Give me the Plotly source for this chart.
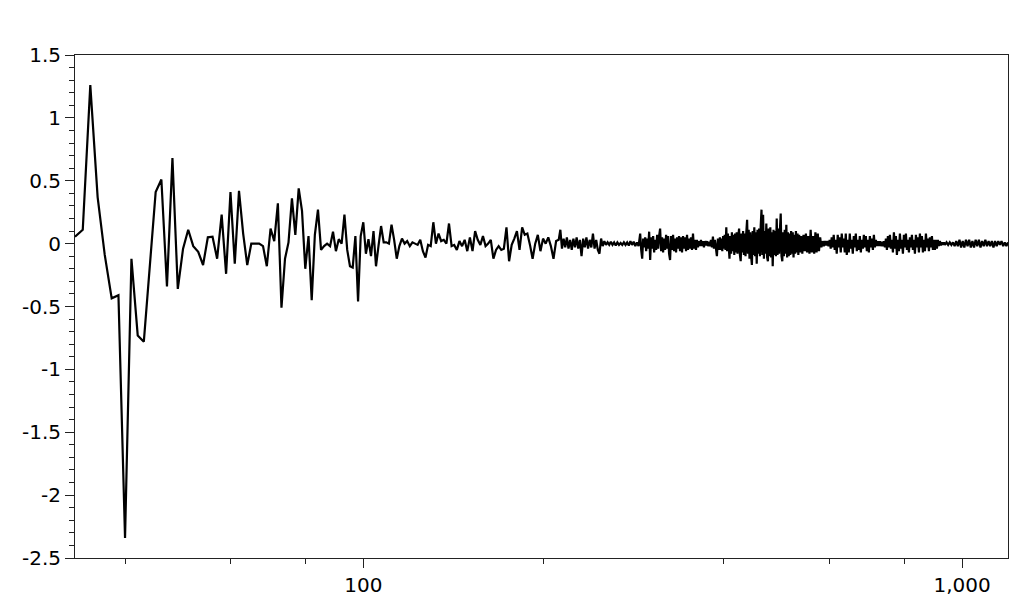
import numpy as np
import plotly.graph_objects as go

# Segment A: integer x from 33 to 105
x_a = list(range(33, 106))
y_a = [0.055, 0.11, 1.26, 0.37, -0.09, -0.435, -0.41, -2.34, -0.12, -0.73,
       -0.78, -0.18, 0.41, 0.51, -0.34, 0.68, -0.36, -0.04, 0.11, -0.02,
       -0.065, -0.17, 0.05, 0.055, -0.12, 0.23, -0.24, 0.41, -0.16, 0.42,
       0.08, -0.17, 0.0, 0.0, 0.0, -0.02, -0.18, 0.12, 0.02, 0.32,
       -0.51, -0.12, 0.01, 0.36, 0.07, 0.44, 0.26, -0.2, 0.06, -0.45,
       0.07, 0.27, -0.05, -0.02, 0.0, -0.02, 0.095, -0.06, 0.035, 0.0,
       0.23, -0.05, -0.18, -0.19, 0.06, -0.46, 0.06, 0.17, -0.08, 0.035,
       -0.1, 0.1, -0.18]

# Segments read along the denser part of the trace; each segment spans
# [start, end) in x and its values are read left to right.
seg_bounds = [106, 212, 290, 394, 536, 601, 729, 936, 1193]

y_b = [-0.02, 0.14, 0.01, 0.01, 0.0, 0.15, 0.03, -0.12, -0.02, 0.04,
       0.0, 0.02, -0.02, 0.01, 0.0, -0.01, 0.03, -0.06, -0.11, -0.01,
       -0.02, 0.17, 0.0, 0.08, 0.02, 0.03, 0.0, 0.16, -0.02, -0.01,
       -0.05, 0.02, -0.02, 0.03, -0.06, 0.05, -0.06, 0.1, 0.03, -0.01,
       0.06, -0.02, 0.0, 0.03, -0.12, -0.05, -0.02, -0.05, -0.04, 0.13,
       -0.14, -0.01, 0.04, 0.1, -0.05, 0.13, 0.07, 0.08, -0.01, -0.12,
       0.0, 0.07, -0.06, 0.04, 0.0, 0.05, -0.02, -0.12, 0.02]

y_c1 = [
    0.03, 0.11, -0.04, 0.04, -0.03, 0.05, -0.04, 0.03, -0.05, 0.04,
    -0.03, 0.05, -0.04, 0.03, -0.10, 0.04, -0.03, 0.05, -0.04, 0.03,
    -0.03, 0.08, -0.04, 0.03, -0.05, -0.08, 0.04, -0.02, 0.02, -0.01,
    0.01, -0.01, 0.015, -0.01, 0.01, -0.015, 0.01, -0.01, 0.005, -0.01,
    0.01, -0.01, 0.01, -0.015, 0.02, -0.01, 0.015, -0.02, 0.01, -0.02,
]

y_c2 = [
    0.08, -0.05, -0.12, 0.04, -0.03, 0.05, -0.06, 0.04, -0.04, 0.095,
    -0.13, 0.05, -0.04, 0.06, -0.07, 0.03, -0.05, 0.07, -0.04, 0.06,
    0.12, -0.06, 0.05, -0.07, 0.04, -0.05, 0.07, -0.04, 0.06, -0.08,
    -0.13, 0.06, -0.05, 0.07, -0.06, 0.04, -0.07, 0.05, -0.04, 0.06,
    -0.06, 0.05, -0.07, 0.06, -0.04, 0.05, -0.06, 0.07, -0.05, 0.04,
    -0.04, 0.05, -0.05, 0.08, -0.04, 0.03, -0.05, 0.03, -0.03, 0.02,
    -0.02, 0.03, -0.02, 0.02, -0.03, 0.02, -0.015, 0.02, -0.02, 0.015,
    -0.02, 0.03, -0.03, 0.055, -0.04, 0.03, -0.05, -0.10, 0.04, -0.05,
]

y_c3 = [
    0.05, -0.05, 0.04, -0.06, 0.06, -0.04, 0.07, -0.05, 0.13, -0.06,
    0.08, -0.07, -0.12, 0.06, -0.08, 0.09, -0.06, 0.07, -0.09, 0.08,
    -0.07, 0.09, -0.08, 0.06, 0.12, -0.09, -0.14, 0.08, -0.07, 0.10,
    -0.09, 0.08, -0.10, 0.09, 0.19, -0.08, 0.11, -0.12, 0.09, -0.10,
    -0.17, 0.10, -0.09, 0.13, -0.10, 0.09, -0.16, 0.11, -0.08, 0.12,
    -0.10, 0.14, 0.27, -0.09, 0.23, -0.12, 0.10, -0.08, 0.16, -0.11,
    -0.14, 0.12, -0.10, 0.13, -0.11, 0.09, -0.18, 0.11, -0.09, 0.10,
    -0.10, 0.20, -0.09, 0.12, -0.08, 0.11, 0.24, -0.10, -0.14, 0.09,
    -0.10, 0.11, -0.08, 0.15, -0.11, 0.09, -0.10, 0.08, -0.09, 0.10,
    -0.08, 0.09, -0.11, 0.07, -0.08, 0.10, -0.07, 0.08, -0.09, 0.07,
]

y_c4 = [
    -0.07, 0.06, -0.08, 0.07, -0.06, 0.08, -0.07, 0.06, -0.08, 0.11,
    -0.07, 0.06, -0.08, 0.09, -0.07, 0.08, -0.06, 0.05, -0.03, 0.02,
    -0.02, 0.02, -0.015, 0.02, -0.02,
]

y_c5 = [
    0.03, -0.04, 0.05, -0.03, 0.07, -0.05, 0.03, -0.08, 0.07, -0.03,
    0.05, -0.07, 0.08, -0.03, 0.04, -0.07, 0.08, -0.09, 0.03, -0.07,
    0.08, -0.04, 0.03, -0.08, 0.06, -0.03, 0.08, -0.06, 0.03, -0.05,
    0.06, -0.07, 0.03, -0.04, 0.07, -0.03, 0.06, -0.06, 0.03, -0.07,
    0.06, -0.03, 0.04, -0.05, 0.07, -0.03, 0.03, -0.02, 0.02, -0.02,
]

y_c6 = [
    0.02, -0.02, 0.015, -0.02, 0.02, -0.03, 0.04, -0.05, 0.06, -0.03,
    0.07, -0.04, 0.03, -0.07, 0.09, -0.04, 0.06, -0.09, 0.03, -0.06,
    0.08, -0.04, 0.03, -0.08, 0.07, -0.03, 0.08, -0.05, 0.03, -0.07,
    0.05, -0.03, 0.07, -0.05, 0.03, -0.08, 0.07, -0.03, 0.05, -0.07,
    0.08, -0.03, 0.06, -0.07, 0.03, -0.06, 0.08, -0.03, 0.04, -0.06,
    0.05, -0.03, 0.06, -0.05, 0.03, -0.05, 0.03, -0.04, 0.03, -0.02,
    0.02, -0.015, 0.01, -0.01, 0.01,
]

y_c7 = [
    -0.01, 0.01, -0.01, 0.01, -0.01, 0.01, -0.02, 0.02, -0.02, 0.03,
    -0.03, 0.02, -0.03, 0.03, -0.02, 0.03, -0.03, 0.02, -0.03, 0.03,
    -0.02, 0.03, -0.03, 0.02, -0.02, 0.03, -0.02, 0.02, -0.02, 0.02,
    -0.03, 0.02, -0.02, 0.02, -0.01, 0.02, -0.02, 0.01, -0.02, 0.01,
]

x_major = [100, 1000]
x_major_text = ["100", "1,000"]
x_minor = [40, 60, 80, 200, 400, 600, 800]
y_major = [-2.5, -2, -1.5, -1, -0.5, 0, 0.5, 1, 1.5]
y_major_text = ["-2.5", "-2", "-1.5", "-1", "-0.5", "0", "0.5", "1", "1.5"]
x_range = [33, 1193]
y_range = [-2.5, 1.5]

segments = [y_b, y_c1, y_c2, y_c3, y_c4, y_c5, y_c6, y_c7]
xs = [np.array(x_a, dtype=float)]
ys = [np.array(y_a)]
for i, seg in enumerate(segments):
    last = i == len(segments) - 1
    xs.append(np.geomspace(seg_bounds[i], seg_bounds[i + 1], len(seg),
                           endpoint=last))
    ys.append(np.array(seg))
x_all = np.concatenate(xs)
y_all = np.concatenate(ys)

fig = go.Figure()
fig.add_trace(go.Scatter(x=x_all, y=y_all, mode="lines",
                         line=dict(color="black", width=2.2), showlegend=False))

axcol = "#222222"
fig.update_layout(
    width=1008, height=600,
    paper_bgcolor="white", plot_bgcolor="white",
    margin=dict(l=67, r=8, t=47, b=50, autoexpand=False),
    font=dict(family="DejaVu Sans", size=20, color="black"),
    xaxis=dict(
        type="log", range=[np.log10(x_range[0]), np.log10(x_range[1])],
        showgrid=False, zeroline=False,
        showline=True, linecolor=axcol, linewidth=1, mirror=True,
        ticks="outside", ticklen=9, tickcolor=axcol, tickwidth=1,
        tickmode="array", tickvals=x_major, ticktext=x_major_text,
        minor=dict(tickmode="array", tickvals=x_minor, ticks="outside",
                   ticklen=5, tickcolor=axcol, tickwidth=1, showgrid=False),
    ),
    yaxis=dict(
        range=y_range,
        showgrid=False, zeroline=False,
        showline=True, linecolor=axcol, linewidth=1, mirror=True,
        ticks="outside", ticklen=9, tickcolor=axcol, tickwidth=1,
        tickmode="array", tickvals=y_major, ticktext=y_major_text,
        minor=dict(tickmode="linear", tick0=0, dtick=0.1, ticks="outside",
                   ticklen=5, tickcolor=axcol, tickwidth=1, showgrid=False),
    ),
)

fig.write_html("out.html")
